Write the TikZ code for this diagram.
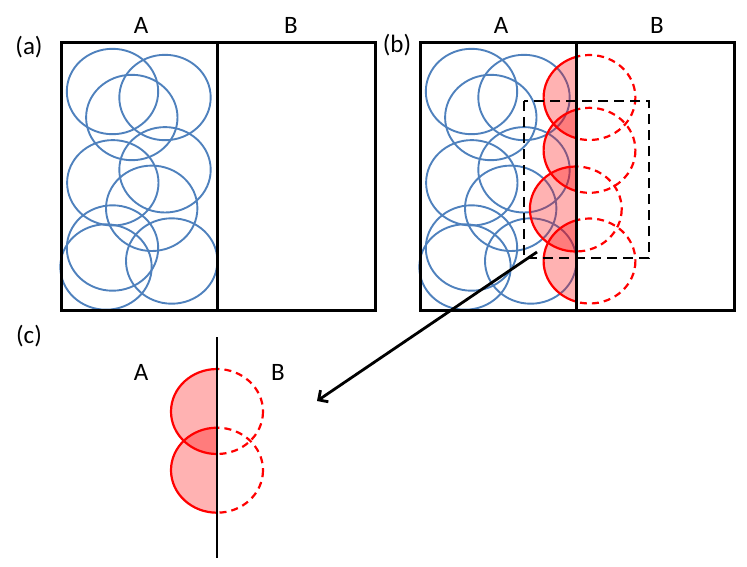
\documentclass[tikz,border=0pt]{standalone}
\usepackage{fontspec}
\setmainfont{Carlito}
\usetikzlibrary{positioning}
\usetikzlibrary{arrows.meta}
\definecolor{grainblue}{RGB}{79,129,189}
\definecolor{bred}{RGB}{255,0,0}

\begin{document}
\begin{tikzpicture}[x=1pt, y=-1pt,
    panel/.style={draw=black, line width=3pt},
    grain/.style={draw=grainblue, line width=1.9pt},
    redgrain/.style={draw=bred, line width=2.2pt},
    ghost/.style={draw=bred, line width=2.2pt, dash pattern=on 7pt off 5pt},
    zoombox/.style={draw=black, line width=2.8pt, dash pattern=on 10pt off 6pt},
    lbl/.style={font=\fontsize{25}{30}\selectfont, inner sep=0pt}]
    \useasboundingbox (0,0) rectangle (747,566);

    % grains on side A, same packing in (a) and (b)
    \foreach \dx in {0,359} {
        \foreach \cx/\cy in {112.5/91.5, 165/97.5, 131.8/117.5, 112.8/182.8, 165/169.8,
                             151.7/208.3, 112.5/248, 106/267, 171.7/261} {
            \draw[grain] (\cx+\dx, \cy) ellipse [x radius=45.7, y radius=42.7];
        }
    }

    % cut grains at the interface in (b)
    \begin{scope}
        \clip (419,42) rectangle (576,310);
        \foreach \cx/\cy in {589.5/97.5, 589.5/150.3, 575.8/209, 589.5/261} {
            \draw[redgrain, fill=bred, fill opacity=0.3] (\cx, \cy) ellipse [x radius=45.9, y radius=42.5];
        }
    \end{scope}
    \begin{scope}
        \clip (576,0) rectangle (747,566);
        \foreach \cx/\cy in {589.5/97.5, 589.5/150.3, 575.8/209, 589.5/261} {
            \draw[ghost] (\cx, \cy) ellipse [x radius=45.9, y radius=42.5];
        }
    \end{scope}

    % boxes
    \foreach \dx in {0,359} {
        \draw[panel] (61+\dx, 42) rectangle (375+\dx, 310);
        \draw[panel] (217+\dx, 42) -- (217+\dx, 310);
    }
    \draw[zoombox] (524,101) rectangle (649,258);

    % (c) close-up
    \begin{scope}
        \clip (0,320) rectangle (217,566);
        \foreach \cy in {411.5, 470.2} {
            \draw[redgrain, fill=bred, fill opacity=0.3] (217, \cy) ellipse [x radius=46, y radius=42.5];
        }
    \end{scope}
    \begin{scope}
        \clip (217,320) rectangle (400,566);
        \foreach \cy in {411.5, 470.2} {
            \draw[ghost] (217, \cy) ellipse [x radius=46, y radius=42.5];
        }
    \end{scope}
    \coordinate (ifacetop) at (217,337);
    \coordinate (ifacebot) at (217,558);
    \draw[black, line width=2.8pt] (ifacetop) -- (ifacebot);

    % arrow from zoom box to close-up
    \coordinate (boxcorner) at (537,252);
    \coordinate (closeup) at (317,401);
    \draw[black, line width=2.8pt, -{Straight Barb[length=7pt, width=14pt]}] (boxcorner) -- (closeup);

    % labels
    \node[lbl] (tagA) at (29,47) {(a)};
    \node[lbl] (tagB) at (397,45) {(b)};
    \node[lbl] (tagC) at (29,336) {(c)};
    \node[lbl] (aA) at (141,25) {A};
    \node[lbl] (aB) at (291,25) {B};
    \node[lbl] (bA) at (501,25) {A};
    \node[lbl] (bB) at (657,25) {B};
    \node[lbl] (cA) at (141,372) {A};
    \node[lbl] (cB) at (278,372) {B};
\end{tikzpicture}
\end{document}
